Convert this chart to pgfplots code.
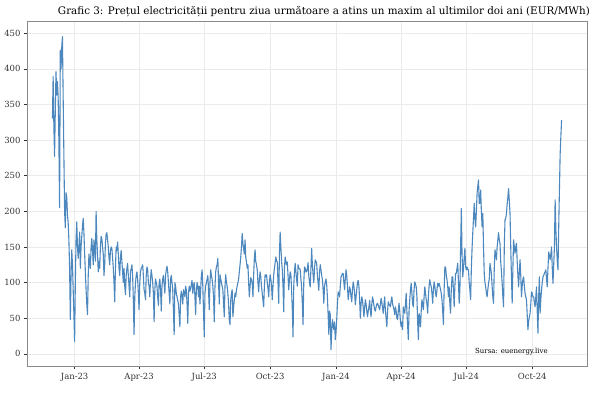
\documentclass[border=0pt]{standalone}
\usepackage{pgfplots}
\pgfplotsset{compat=1.18}
\usepackage{pgfplotstable}
\usepackage{fontspec}
\setmainfont{DejaVu Serif}
\definecolor{linec}{HTML}{4C87BD}
\definecolor{gridc}{HTML}{EBEBEB}
\definecolor{borderc}{HTML}{8A8A8A}
\definecolor{labc}{HTML}{333333}
\pgfplotstableread[row sep=\\]{
price\\
330\\389\\320\\277\\340\\396\\363\\382\\360\\300\\205\\426\\400\\430\\445\\360\\280\\200\\177\\226\\220\\195\\184\\160\\120\\48\\110\\146\\125\\90\\55\\17\\
100\\160\\185\\150\\134\\150\\171\\120\\150\\165\\180\\190\\170\\140\\115\\90\\70\\55\\110\\140\\130\\120\\150\\162\\145\\125\\160\\150\\130\\200\\160\\
140\\115\\130\\120\\150\\165\\162\\150\\140\\110\\125\\155\\168\\170\\160\\150\\135\\125\\145\\150\\148\\135\\120\\100\\73\\120\\150\\145\\
157\\140\\120\\110\\135\\145\\130\\115\\100\\120\\95\\83\\110\\120\\127\\110\\95\\80\\115\\120\\125\\110\\75\\27\\80\\100\\110\\115\\105\\85\\62\\
100\\115\\120\\122\\125\\110\\90\\85\\76\\110\\122\\118\\100\\95\\80\\105\\118\\110\\100\\85\\45\\90\\105\\100\\95\\80\\68\\100\\105\\90\\
60\\95\\105\\110\\98\\85\\110\\118\\123\\115\\100\\85\\70\\105\\110\\100\\90\\60\\27\\100\\95\\85\\80\\75\\70\\55\\38\\80\\88\\80\\70\\
90\\85\\80\\95\\90\\70\\43\\85\\95\\88\\92\\98\\103\\85\\95\\100\\80\\55\\90\\100\\95\\80\\95\\70\\90\\110\\118\\95\\60\\24\\
85\\95\\100\\105\\110\\90\\62\\100\\118\\110\\105\\95\\80\\45\\95\\115\\122\\125\\134\\100\\70\\111\\105\\100\\95\\90\\70\\52\\95\\111\\100\\
95\\85\\70\\48\\41\\75\\85\\90\\52\\65\\76\\85\\80\\90\\95\\100\\105\\115\\125\\136\\150\\169\\155\\148\\140\\160\\135\\129\\120\\125\\100\\
80\\95\\107\\104\\99\\80\\110\\135\\146\\129\\125\\118\\100\\87\\105\\115\\108\\94\\85\\75\\66\\95\\111\\108\\111\\100\\92\\80\\100\\111\\
105\\95\\76\\95\\111\\120\\128\\136\\130\\129\\100\\71\\140\\171\\150\\130\\118\\95\\59\\120\\136\\130\\125\\129\\110\\90\\105\\115\\111\\90\\62\\
24\\95\\115\\127\\115\\104\\95\\125\\120\\120\\118\\105\\94\\70\\41\\100\\122\\120\\115\\115\\120\\128\\110\\100\\94\\120\\148\\125\\111\\100\\
120\\132\\130\\127\\110\\100\\89\\115\\125\\118\\110\\104\\90\\71\\95\\101\\105\\97\\80\\55\\27\\60\\55\\6\\30\\48\\40\\34\\45\\20\\30\\
48\\70\\87\\85\\80\\95\\108\\110\\113\\113\\100\\90\\105\\118\\110\\95\\76\\85\\94\\90\\80\\73\\90\\101\\95\\85\\69\\80\\90\\100\\103\\
95\\75\\50\\70\\80\\75\\65\\52\\65\\76\\70\\60\\52\\60\\66\\75\\60\\52\\70\\80\\75\\68\\62\\60\\66\\70\\71\\68\\65\\
62\\70\\78\\72\\65\\57\\70\\80\\60\\50\\38\\60\\73\\70\\68\\66\\75\\80\\70\\66\\62\\55\\66\\60\\50\\48\\60\\71\\60\\45\\38\\
45\\34\\66\\60\\57\\70\\85\\60\\40\\20\\60\\76\\90\\99\\85\\70\\66\\90\\101\\98\\94\\80\\45\\20\\57\\50\\38\\60\\76\\70\\
62\\80\\94\\85\\76\\70\\57\\80\\95\\104\\98\\94\\85\\71\\90\\101\\95\\85\\80\\90\\99\\95\\99\\95\\90\\85\\76\\60\\41\\90\\122\\
122\\110\\104\\94\\80\\94\\70\\57\\90\\108\\108\\90\\66\\95\\113\\113\\120\\127\\100\\71\\90\\150\\204\\140\\108\\120\\135\\148\\122\\118\\
122\\118\\118\\100\\90\\76\\120\\148\\170\\190\\211\\190\\178\\200\\225\\235\\244\\211\\211\\230\\200\\178\\197\\150\\113\\100\\94\\85\\80\\90\\99\\
105\\127\\120\\113\\95\\80\\71\\120\\146\\140\\132\\150\\160\\170\\160\\155\\130\\115\\100\\80\\66\\150\\188\\190\\197\\210\\220\\232\\215\\197\\150\\
108\\71\\120\\160\\150\\141\\150\\155\\130\\110\\94\\115\\132\\110\\80\\95\\105\\108\\95\\85\\80\\76\\55\\34\\45\\52\\57\\70\\87\\85\\
80\\80\\72\\66\\80\\94\\60\\29\\80\\108\\57\\76\\90\\100\\108\\110\\113\\115\\118\\105\\94\\120\\143\\138\\132\\140\\150\\120\\99\\125\\150\\
216\\175\\150\\130\\118\\178\\230\\280\\305\\328\\
}\prices
\begin{document}
\begin{tikzpicture}
\useasboundingbox (0,0) rectangle (600bp,397bp);
\begin{axis}[
  name=ax,
  at={(27bp,31bp)}, anchor=south west,
  width=560bp, height=345bp, scale only axis,
  xmin=-66.5, xmax=715.5, ymin=-17, ymax=467,
  xtick={0,90,181,273,365,456,547,639},
  xticklabels={Jan-23,Apr-23,Jul-23,Oct-23,Jan-24,Apr-24,Jul-24,Oct-24},
  ytick={0,50,100,150,200,250,300,350,400,450},
  grid=major,
  major grid style={color=gridc, line width=0.5pt},
  axis line style={color=borderc, line width=0.6pt},
  tick style={color=labc, line width=0.5pt},
  tick align=outside, tick pos=left,
  major tick length=3bp,
  /pgf/number format/assume math mode=true,
  ticklabel style={font=\fontsize{8.5}{10}\selectfont, color=labc},
  xticklabel style={yshift=-1bp},
  clip=false,
]
\addplot[color=linec, line width=1.1pt, line join=round] table[x expr=\coordindex-31, y=price] {\prices};
\node[font=\fontsize{7}{8}\selectfont, color=black] at (axis cs:610,3) {Sursa: euenergy.live};
\end{axis}
\node[anchor=base east, font=\fontsize{10.4}{12}\selectfont, color=black, inner sep=0pt] at ([xshift=3bp,yshift=6bp]ax.north east) {Grafic 3: Prețul electricității pentru ziua următoare a atins un maxim al ultimilor doi ani (EUR/MWh)};
\end{tikzpicture}
\end{document}
